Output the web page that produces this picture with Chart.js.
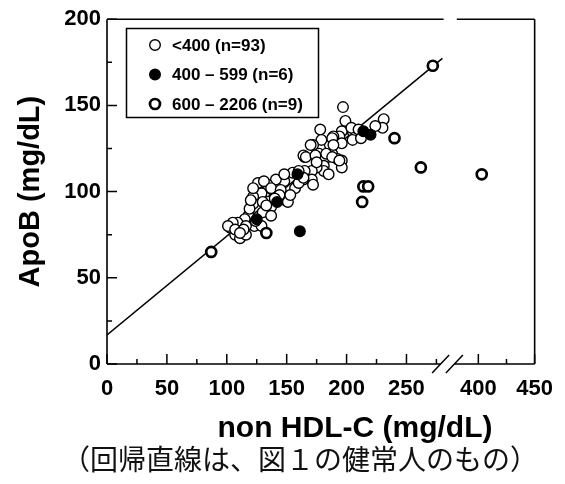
<!DOCTYPE html>
<html>
<head>
<meta charset="utf-8">
<script src="https://cdn.jsdelivr.net/npm/chart.js@4.4.1/dist/chart.umd.min.js"></script>
<style>
  html, body { margin: 0; padding: 0; background: #fff; }
  #wrap { position: relative; width: 565px; height: 484px; }
  #caption {
    position: absolute; left: 62px; top: 444px;
    font-family: "Noto Sans CJK JP", sans-serif; font-size: 28px; line-height: 1;
    color: #111; white-space: nowrap;
  }
</style>
</head>
<body>
<div id="wrap">
  <canvas id="apoChart" width="565" height="484"></canvas>
  <div id="caption">（回帰直線は、図１の健常人のもの）</div>
</div>
<script>
// TG groups (legend text)
const seriesLabels = ['<400 (n=93)', '400 – 599 (n=6)', '600 – 2206 (n=9)'];

// [non HDL-C, ApoB]
const tgLow = [
  [197,149],[199,141],[178,136],[231,142],[230,137],[224,138],[205,135],[208,133],[205,130],[196,135],
  [194,132],[189,132],[186,127],[179,130],[172,127],[177,122],[188,122],[165,120],[182,119],[181,115],
  [181,112],[196,118],[196,114],[175,114],[171,112],[165,112],[155,111],[171,107],[172,104],[164,107],
  [157,102],[148,106],[141,107],[134,104],[133,100],[144,100],[138,101],[129,99],[122,97],[122,93],
  [130,94],[149,95],[137,91],[130,88],[137,86],[118,86],[115,84],[109,82],[103,79],[107,75],
  [111,73],[116,75],[123,80],[129,80],[116,80],[126,105],[119,90],[105,82],[101,80],[107,78],
  [114,78],[111,76],[124,83],[164,121],[148,110],[131,106],[122,102],[137,102],[145,101],[144,98],
  [120,95],[151,94],[153,98],[160,105],[164,108],[170,127],[188,131],[196,128],[204,137],[166,120],
  [174,121],[183,122],[192,119],[210,136],[212,131],[189,127],[188,120],[194,118],[185,110],[160,112],
  [175,117],[140,96],[133,92]
];
const tgMid = [[161,77],[125,84],[142,94],[159,110],[214,135],[220,133]];
const tgHigh = [[262,114],[403,110],[240,131],[213,94],[214,103],[218,103],[87,65],[272,173],[133,76]];

// regression line of healthy subjects (fig.1)
const regressionLine = [[0,16.8],[280,177.3]];

const xTicks = [0,25,50,75,100,125,150,175,200,225,250,275,400,425,450];
const xLabelled = [0,50,100,150,200,250,400,450];
const yTicks = [0,25,50,75,100,125,150,175,200];
const yLabelled = [0,50,100,150,200];

// broken x axis: 400..450 is squeezed in right after ~290
const breakRaw = 400, breakAxis = 310, breakScale = 0.94;
function toAxis(x) {
  return x < 300 ? x : breakAxis + (x - breakRaw) * breakScale;
}
function pts(list) {
  return list.map(p => ({ x: toAxis(p[0]), y: p[1] }));
}

const FONT = '"Liberation Sans", Arial, sans-serif';
Chart.defaults.font.family = FONT;
Chart.defaults.color = '#000';

// box, top gap, axis break marks and inward ticks
const framePlugin = {
  id: 'frame',
  afterDatasetsDraw(chart) {
    const { ctx, chartArea: a, scales: { x, y } } = chart;
    ctx.save();
    ctx.strokeStyle = '#000';
    ctx.lineWidth = 1.6;
    const g1 = x.getPixelForValue(278.5), g2 = x.getPixelForValue(290);
    ctx.beginPath();
    ctx.moveTo(a.left, a.top); ctx.lineTo(a.left, a.bottom);
    ctx.moveTo(a.right, a.top); ctx.lineTo(a.right, a.bottom);
    ctx.moveTo(a.left, a.bottom); ctx.lineTo(g1, a.bottom);
    ctx.moveTo(g2, a.bottom); ctx.lineTo(a.right, a.bottom);
    ctx.moveTo(a.left, a.top); ctx.lineTo(x.getPixelForValue(281), a.top);
    ctx.moveTo(x.getPixelForValue(292), a.top); ctx.lineTo(a.right, a.top);
    ctx.stroke();

    // slashes
    ctx.lineWidth = 1.5;
    ctx.beginPath();
    [g1, g2].forEach(px => {
      ctx.moveTo(px - 8.5, a.bottom + 9);
      ctx.lineTo(px + 8.5, a.bottom - 9);
    });
    ctx.stroke();

    // ticks pointing into the plot
    ctx.beginPath();
    xTicks.forEach(v => {
      const px = x.getPixelForValue(toAxis(v));
      const len = xLabelled.includes(v) ? 10 : 5;
      ctx.moveTo(px, a.bottom); ctx.lineTo(px, a.bottom - len);
    });
    yTicks.forEach(v => {
      const py = y.getPixelForValue(v);
      const len = yLabelled.includes(v) ? 10 : 5;
      ctx.moveTo(a.left, py); ctx.lineTo(a.left + len, py);
    });
    ctx.stroke();

    // x axis title
    ctx.fillStyle = '#000';
    ctx.font = 'bold 30px ' + FONT;
    ctx.textAlign = 'center';
    ctx.textBaseline = 'middle';
    ctx.fillText('non HDL-C (mg/dL)', 355, 429);
    ctx.restore();
  }
};

// legend in a framed box, top left of the plot
const legendPlugin = {
  id: 'boxLegend',
  afterDraw(chart) {
    const ctx = chart.ctx;
    ctx.save();
    ctx.lineWidth = 1.5;
    ctx.strokeStyle = '#000';
    ctx.strokeRect(126.5, 28.5, 192, 89);
    ctx.font = 'bold 17px ' + FONT;
    ctx.textBaseline = 'middle';
    ctx.textAlign = 'left';
    for (let i = 0; i < 3; i++) {
      const ds = chart.data.datasets[i];
      const yy = 45 + i * 29.5;
      ctx.beginPath();
      ctx.arc(155, yy, ds.pointRadius, 0, Math.PI * 2);
      ctx.fillStyle = ds.pointBackgroundColor;
      ctx.fill();
      ctx.lineWidth = ds.pointBorderWidth;
      ctx.strokeStyle = '#000';
      ctx.stroke();
      ctx.fillStyle = '#000';
      ctx.fillText(ds.label, 172, yy + 1);
    }
    ctx.restore();
  }
};

const ctx = document.getElementById('apoChart').getContext('2d');
new Chart(ctx, {
  type: 'scatter',
  data: {
    datasets: [
      {
        label: seriesLabels[0], data: pts(tgLow), order: 3,
        pointRadius: 5.3, pointBorderWidth: 1.4,
        pointBackgroundColor: '#fff', pointBorderColor: '#000'
      },
      {
        label: seriesLabels[1], data: pts(tgMid), order: 2,
        pointRadius: 5.3, pointBorderWidth: 1.4,
        pointBackgroundColor: '#000', pointBorderColor: '#000'
      },
      {
        label: seriesLabels[2], data: pts(tgHigh), order: 1,
        pointRadius: 5, pointBorderWidth: 2.7,
        pointBackgroundColor: '#fff', pointBorderColor: '#000'
      },
      {
        type: 'line', label: 'regression', data: pts(regressionLine), order: 4,
        borderColor: '#000', borderWidth: 1.5, pointRadius: 0, fill: false
      }
    ]
  },
  options: {
    responsive: false,
    animation: false,
    layout: { padding: { top: 19, right: 24, left: 0, bottom: 0 } },
    plugins: { legend: { display: false }, tooltip: { enabled: false } },
    scales: {
      x: {
        type: 'linear', min: 0, max: toAxis(450),
        afterBuildTicks: s => { s.ticks = xTicks.map(v => ({ value: toAxis(v) })); },
        afterFit: s => { s.height = 120; },
        grid: { display: false, drawTicks: false },
        border: { display: false },
        ticks: {
          autoSkip: false, maxRotation: 0, padding: 12, color: '#000',
          font: { size: 22, weight: 'bold' },
          callback: value => {
            const raw = xTicks.find(t => Math.abs(toAxis(t) - value) < 0.01);
            return xLabelled.includes(raw) ? String(raw) : '';
          }
        }
      },
      y: {
        min: 0, max: 200,
        afterBuildTicks: s => { s.ticks = yTicks.map(v => ({ value: v })); },
        afterFit: s => { s.width = 107; },
        grid: { display: false, drawTicks: false },
        border: { display: false },
        ticks: {
          padding: 6, color: '#000',
          font: { size: 22, weight: 'bold' },
          callback: value => yLabelled.includes(value) ? String(value) : ''
        },
        title: {
          display: true, text: 'ApoB (mg/dL)', color: '#000',
          font: { size: 29, weight: 'bold', lineHeight: 1 },
          padding: { top: 16, bottom: 0 }
        }
      }
    }
  },
  plugins: [framePlugin, legendPlugin]
});
</script>
</body>
</html>
